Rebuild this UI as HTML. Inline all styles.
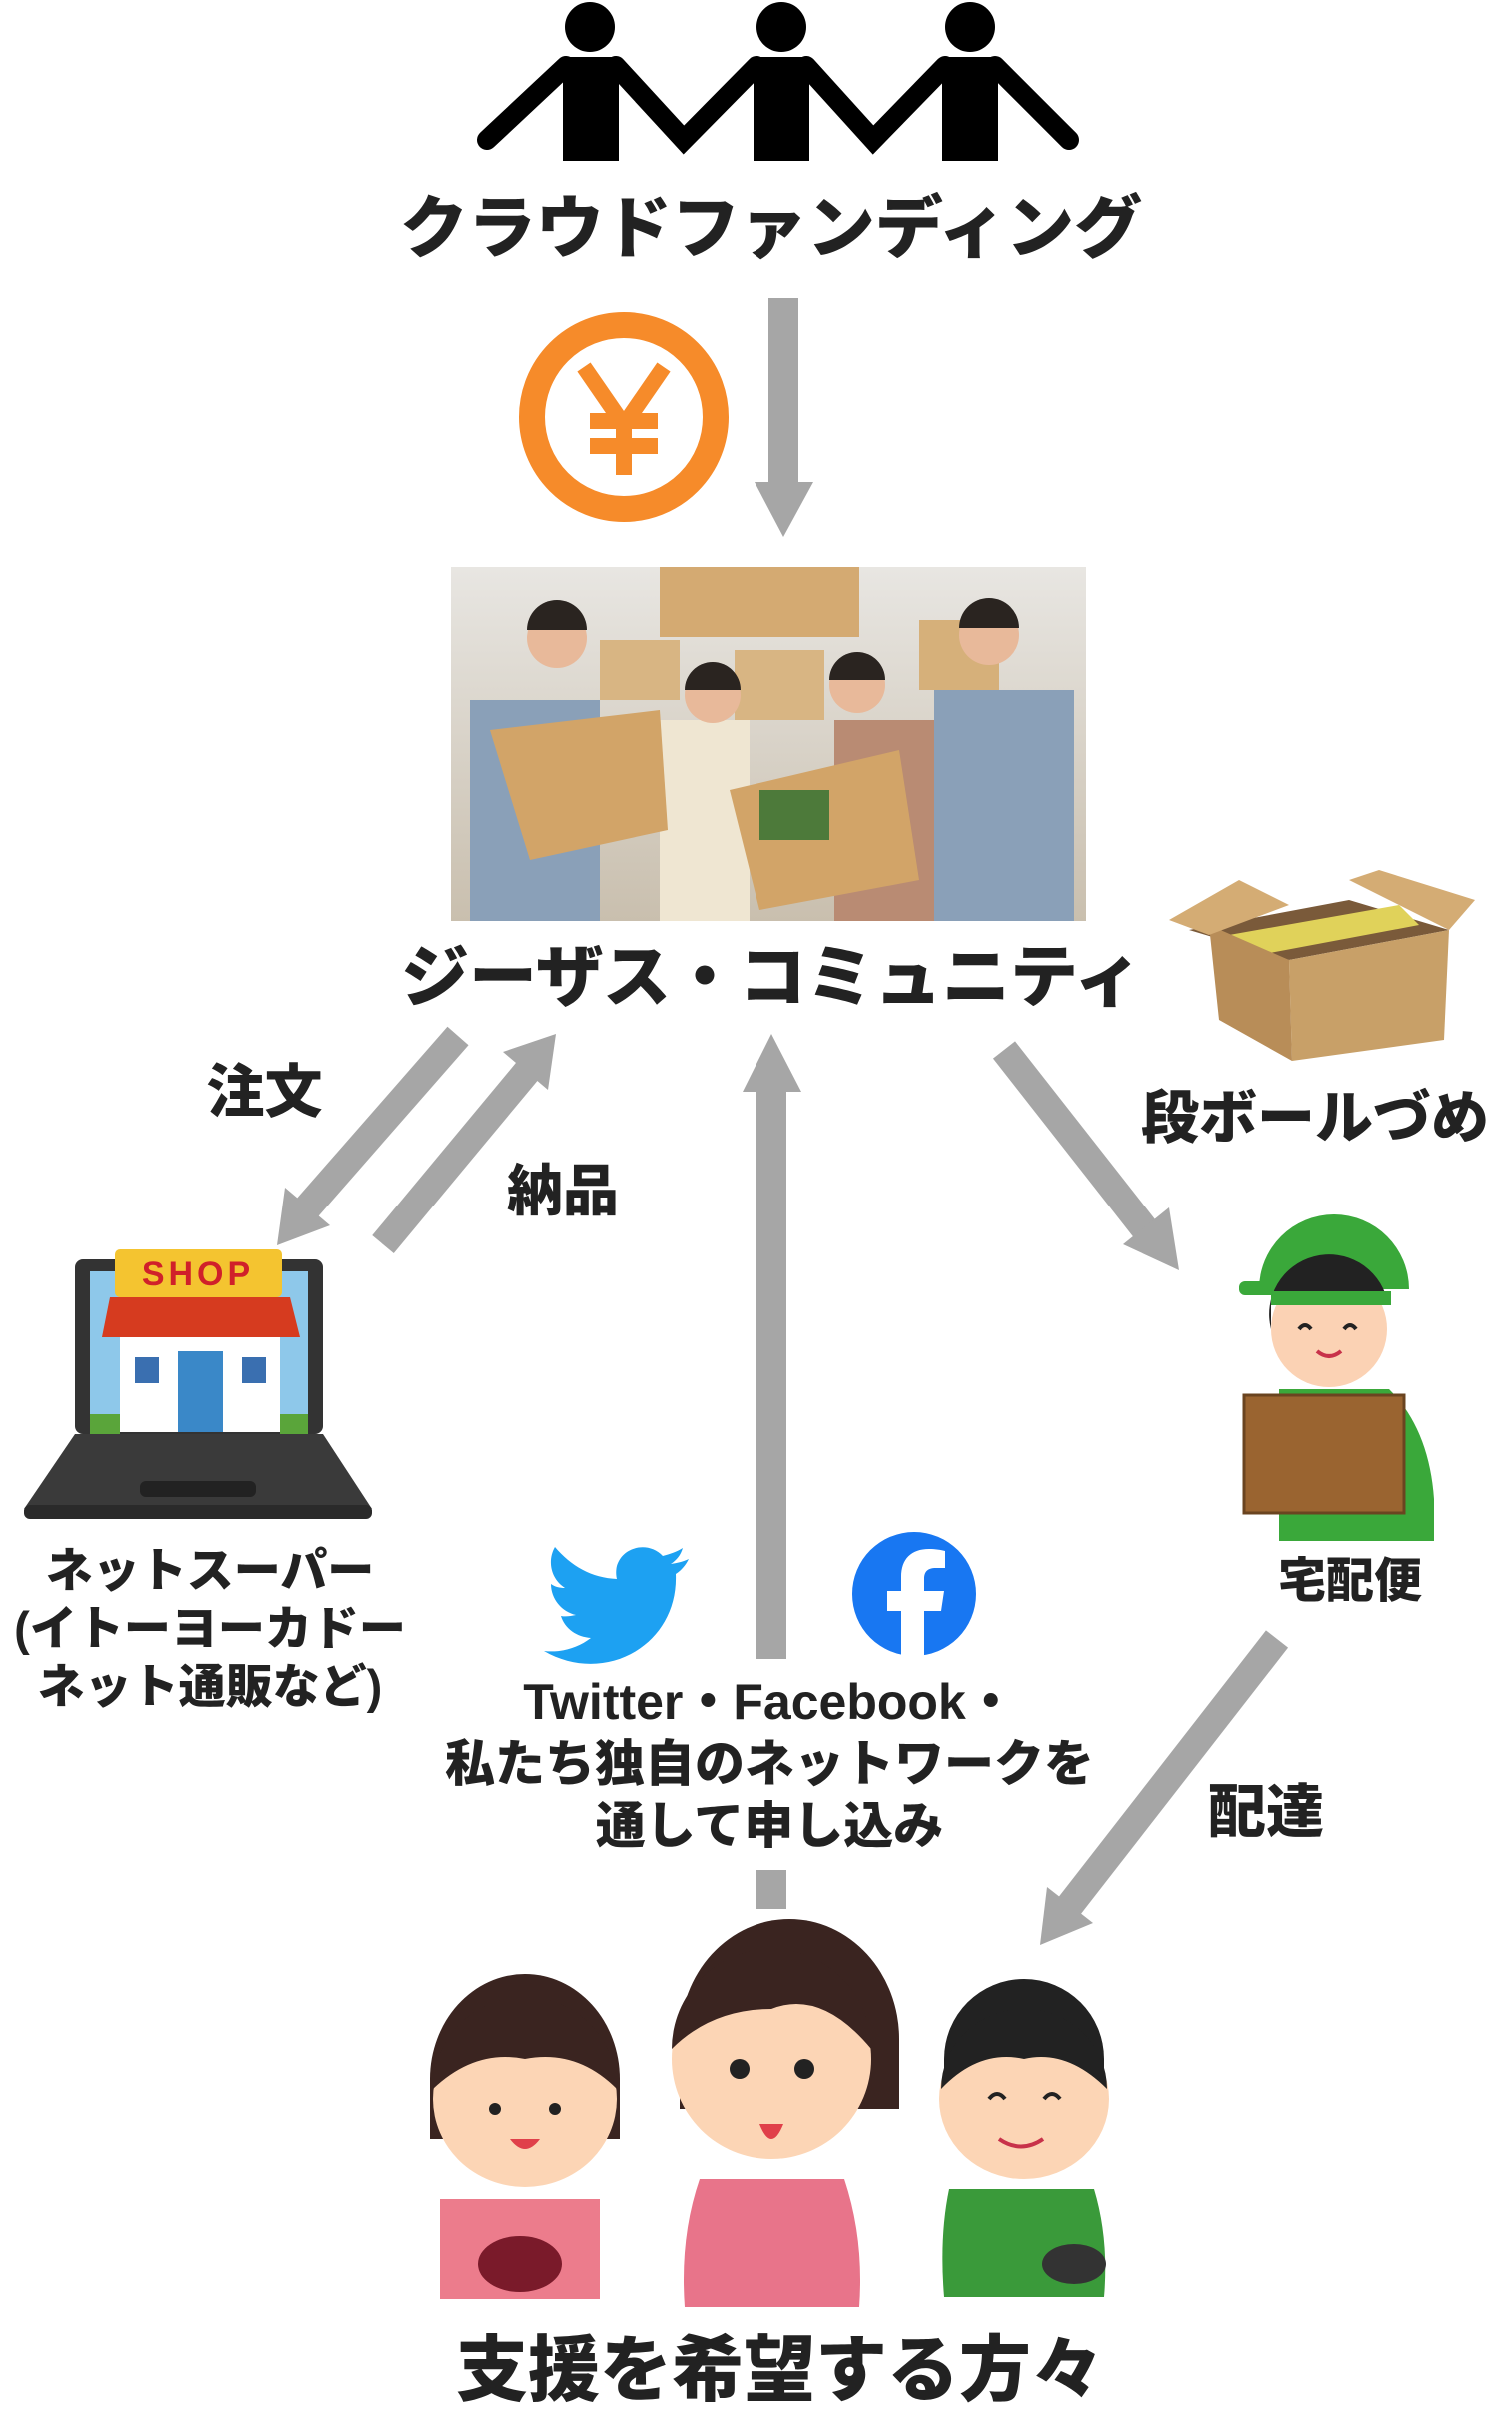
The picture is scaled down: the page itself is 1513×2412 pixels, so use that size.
<!DOCTYPE html>
<html><head><meta charset="utf-8">
<style>
html,body{margin:0;padding:0;background:#fff;}
body{width:1513px;height:2407px;position:relative;overflow:hidden;font-family:"Liberation Sans","Noto Sans CJK JP",sans-serif;font-weight:900;color:#222;}
.t{position:absolute;white-space:nowrap;text-align:center;line-height:1;}
svg{position:absolute;left:0;top:0;}
</style></head><body>
<svg width="1513" height="2407" viewBox="0 0 1513 2407">
<!-- people icon -->
<g fill="#000" stroke="#000">
 <circle cx="590" cy="27" r="25" stroke="none"/>
 <circle cx="782" cy="27" r="25" stroke="none"/>
 <circle cx="971" cy="27" r="25" stroke="none"/>
 <rect x="563" y="57" width="56" height="104" stroke="none"/>
 <rect x="754" y="57" width="56" height="104" stroke="none"/>
 <rect x="943" y="57" width="56" height="104" stroke="none"/>
 <g stroke-width="20" stroke-linecap="round" fill="none">
  <path d="M566 66 L487 140"/>
  <path d="M616 66 L684 140 L757 66"/>
  <path d="M807 66 L874 140 L946 66"/>
  <path d="M996 66 L1070 140"/>
 </g>
</g>
<!-- arrows -->
<g fill="#a6a6a6" stroke="#a6a6a6">
 <line x1="784" y1="298" x2="784" y2="485" stroke-width="30"/>
 <polygon points="755,482 814,482 784,537" stroke="none"/>
 <!-- 注文 -->
 <line x1="458" y1="1036" x2="304" y2="1212" stroke-width="28"/>
 <polygon points="277,1246 285,1188 330,1226" stroke="none"/>
 <!-- 納品 -->
 <line x1="383" y1="1245" x2="530" y2="1068" stroke-width="28"/>
 <polygon points="556,1034 503,1052 548,1090" stroke="none"/>
 <!-- central -->
 <line x1="772" y1="1660" x2="772" y2="1090" stroke-width="30"/>
 <polygon points="743,1092 802,1092 772,1034" stroke="none"/>
 <line x1="772" y1="1871" x2="772" y2="1910" stroke-width="30"/>
 <!-- 段ボール -->
 <line x1="1005" y1="1050" x2="1150" y2="1235" stroke-width="28"/>
 <polygon points="1180,1271 1124,1245 1170,1208" stroke="none"/>
 <!-- 配達 -->
 <line x1="1278" y1="1640" x2="1068" y2="1910" stroke-width="28"/>
 <polygon points="1041,1946 1048,1888 1094,1924" stroke="none"/>
</g>
<!-- yen coin -->
<circle cx="624" cy="417" r="92" fill="none" stroke="#f68b2a" stroke-width="26"/>
<g stroke="#f68b2a" stroke-width="16" fill="none">
 <path d="M584 367 L624 425 L664 367"/>
 <line x1="624" y1="425" x2="624" y2="475"/>
 <line x1="590" y1="421" x2="658" y2="421"/>
 <line x1="590" y1="446" x2="658" y2="446"/>
</g>
<!-- photo -->
<defs>
<linearGradient id="bg" x1="0" y1="0" x2="0" y2="1"><stop offset="0" stop-color="#e8e6e2"/><stop offset="1" stop-color="#c9bfae"/></linearGradient>
</defs>
<rect x="451" y="567" width="636" height="354" fill="url(#bg)"/>
<rect x="660" y="567" width="200" height="70" fill="#d4aa72"/>
<rect x="600" y="640" width="80" height="60" fill="#d8b583"/>
<rect x="735" y="650" width="90" height="70" fill="#d8b583"/>
<rect x="920" y="620" width="80" height="70" fill="#d6b07a"/>
<g fill="#8aa0b8"><rect x="470" y="700" width="130" height="221"/><rect x="935" y="690" width="140" height="231"/></g>
<rect x="660" y="720" width="90" height="201" fill="#efe6d2"/>
<rect x="835" y="720" width="100" height="201" fill="#b98b73"/>
<g fill="#e8b99a"><circle cx="557" cy="638" r="30"/><circle cx="713" cy="695" r="28"/><circle cx="858" cy="685" r="28"/><circle cx="990" cy="635" r="30"/></g>
<g fill="#2a2420"><path d="M527 630 a30 30 0 0 1 60 0 z"/><path d="M685 690 a28 28 0 0 1 56 0 z"/><path d="M830 680 a28 28 0 0 1 56 0 z"/><path d="M960 628 a30 30 0 0 1 60 0 z"/></g>
<polygon points="490,730 660,710 668,830 530,860" fill="#d2a468"/>
<polygon points="730,790 900,750 920,880 760,910" fill="#d2a468"/>
<rect x="760" y="790" width="70" height="50" fill="#4d7a3a"/>
<!-- cardboard box -->
<polygon points="1190,930 1350,900 1450,930 1290,960" fill="#7a5a3a"/>
<polygon points="1230,935 1400,905 1420,925 1260,955" fill="#e0d25a"/>
<polygon points="1290,960 1450,930 1445,1040 1293,1061" fill="#c8a068"/>
<polygon points="1210,925 1290,960 1293,1061 1220,1020" fill="#b88d58"/>
<polygon points="1170,920 1240,880 1290,905 1210,935" fill="#d4ac74"/>
<polygon points="1350,880 1380,870 1476,900 1450,930" fill="#d4ac74"/>
<!-- laptop -->
<rect x="75" y="1260" width="248" height="175" rx="8" fill="#333"/>
<rect x="90" y="1272" width="218" height="152" fill="#8ec8ea"/>
<rect x="115" y="1250" width="167" height="48" rx="5" fill="#f4c430"/>
<text x="198" y="1286" font-size="34" fill="#d0202a" text-anchor="middle" font-family="Liberation Sans,sans-serif" font-weight="bold" letter-spacing="4">SHOP</text>
<polygon points="110,1298 290,1298 300,1338 102,1338" fill="#d63b1f"/>
<rect x="120" y="1338" width="160" height="95" fill="#fff"/>
<rect x="178" y="1352" width="45" height="81" fill="#3a88c8"/>
<rect x="135" y="1358" width="24" height="26" fill="#3a6fb0"/><rect x="242" y="1358" width="24" height="26" fill="#3a6fb0"/>
<rect x="90" y="1415" width="30" height="20" fill="#5aa53a"/><rect x="280" y="1415" width="28" height="20" fill="#5aa53a"/>
<polygon points="75,1435 323,1435 372,1510 24,1510" fill="#3a3a3a"/>
<rect x="24" y="1506" width="348" height="14" rx="6" fill="#2a2a2a"/>
<rect x="140" y="1482" width="116" height="16" rx="6" fill="#222"/>
<!-- twitter -->
<path d="M689 1560 c-6 3 -12 4 -18 5 c6 -4 10 -9 12 -16 c-6 4 -13 6 -20 8 c-14 -15 -40 -10 -46 10 c-1 4 -1 9 0 13 c-25 -1 -46 -13 -62 -32 c-8 14 -4 32 10 41 c-5 0 -10 -1 -14 -4 c0 15 11 28 25 31 c-5 1 -10 2 -15 1 c4 13 16 21 30 22 c-13 10 -30 15 -47 13 c60 35 135 -5 132 -77 c6 -4 10 -9 13 -15z" fill="#1da1f2"/>
<!-- facebook -->
<circle cx="915" cy="1595" r="62" fill="#1877f2"/>
<path d="M925 1657 V1612 H942 L945 1592 H925 V1580 c0 -7 3 -11 12 -11 H946 V1552 c-4 -1 -10 -2 -16 -2 c-18 0 -28 10 -28 28 V1592 H888 V1612 H902 V1657 z" fill="#fff"/>
<!-- delivery man -->
<path d="M1260 1290 a60 60 0 0 1 150 0 z" fill="#3aa83a"/>
<rect x="1240" y="1282" width="60" height="14" rx="6" fill="#3aa83a"/>
<circle cx="1330" cy="1330" r="58" fill="#fbd2b4"/>
<path d="M1272 1330 a58 58 0 0 1 116 -30 v-8 h-116z" fill="#222"/>
<rect x="1272" y="1292" width="120" height="14" fill="#3aa83a"/>
<path d="M1300 1330 q6 -8 12 0 M1345 1330 q6 -8 12 0" stroke="#222" stroke-width="4" fill="none"/>
<path d="M1318 1352 q12 10 24 0" stroke="#c8324a" stroke-width="4" fill="none"/>
<path d="M1280 1390 h110 q40 40 45 110 v42 h-155z" fill="#3aa83a"/>
<rect x="1245" y="1396" width="160" height="118" fill="#9a6430" stroke="#6a4420" stroke-width="3"/>
<!-- people group -->
<g>
 <path d="M430 2080 a95 105 0 0 1 190 0 v60 h-190z" fill="#3a2420"/>
 <ellipse cx="525" cy="2100" rx="92" ry="88" fill="#fcd5b5"/>
 <path d="M433 2090 a92 92 0 0 1 184 0 q-40 -40 -92 -30 q-50 -10 -92 30z" fill="#3a2420"/>
 <circle cx="495" cy="2110" r="6" fill="#222"/><circle cx="555" cy="2110" r="6" fill="#222"/>
 <path d="M510 2140 q15 20 30 0z" fill="#e0404a"/>
 <path d="M440 2200 h160 v100 h-160z" fill="#ec7c8c"/>
 <ellipse cx="520" cy="2265" rx="42" ry="28" fill="#7a1a2a"/>
 <path d="M680 2040 a110 120 0 0 1 220 0 v70 h-220z" fill="#3a2420"/>
 <ellipse cx="772" cy="2060" rx="100" ry="100" fill="#fcd5b5"/>
 <path d="M672 2050 a100 100 0 0 1 200 0 q-50 -60 -100 -40 q-60 0 -100 40z" fill="#3a2420"/>
 <circle cx="740" cy="2070" r="10" fill="#222"/><circle cx="805" cy="2070" r="10" fill="#222"/>
 <path d="M760 2125 q12 30 24 0z" fill="#e0404a"/>
 <path d="M700 2180 h145 q20 60 15 128 h-175 q-5 -70 15 -128z" fill="#e8748a"/>
 <path d="M945 2060 a80 80 0 0 1 160 0 v20 h-160z" fill="#222"/>
 <ellipse cx="1025" cy="2100" rx="85" ry="80" fill="#fcd5b5"/>
 <path d="M942 2090 a83 80 0 0 1 166 0 q-40 -40 -83 -30 q-45 -10 -83 30z" fill="#222"/>
 <path d="M990 2100 q8 -10 16 0 M1045 2100 q8 -10 16 0" stroke="#222" stroke-width="4" fill="none"/>
 <path d="M1000 2140 q22 15 44 0" stroke="#c8324a" stroke-width="4" fill="none"/>
 <path d="M950 2190 h145 q15 50 10 108 h-160 q-5 -60 5 -108z" fill="#3a9a3a"/>
 <ellipse cx="1075" cy="2265" rx="32" ry="20" fill="#333"/>
</g>
</svg>

<div class="t" style="left:393px;top:195px;width:757px;font-size:68px;">クラウドファンディング</div>
<div class="t" style="left:398px;top:944px;width:748px;font-size:68px;">ジーザス・コミュニティ</div>
<div class="t" style="left:204px;top:1064px;width:121px;font-size:58px;">注文</div>
<div class="t" style="left:505px;top:1164px;width:116px;font-size:56px;">納品</div>
<div class="t" style="left:1136px;top:1090px;width:360px;font-size:58px;">段ボールづめ</div>
<div class="t" style="left:0px;top:1543px;width:420px;font-size:47px;line-height:58px;">ネットスーパー<br>(イトーヨーカドー<br>ネット通販など)</div>
<div class="t" style="left:1277px;top:1559px;width:148px;font-size:48px;">宅配便</div>
<div class="t" style="left:1209px;top:1785px;width:116px;font-size:58px;">配達</div>
<div class="t" style="left:420px;top:1672px;width:700px;font-size:50px;line-height:62px;">Twitter・Facebook・<br>私たち独自のネットワークを<br>通して申し込み</div>
<div class="t" style="left:440px;top:2336px;width:680px;font-size:72px;">支援を希望する方々</div>
</body></html>
